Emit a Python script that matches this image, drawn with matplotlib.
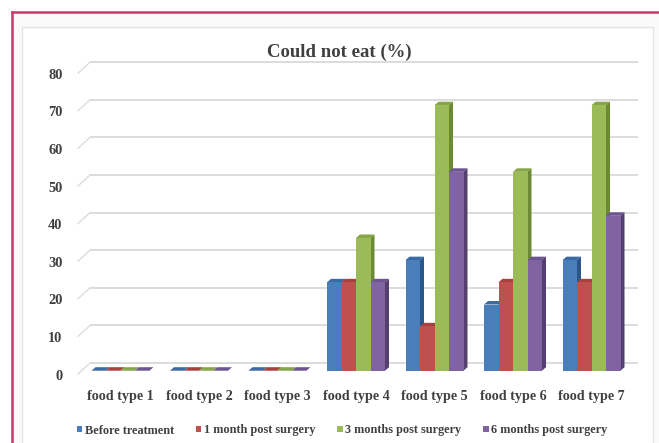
import matplotlib
matplotlib.use('Agg')
import matplotlib.pyplot as plt
from matplotlib.patches import Polygon, Rectangle, Patch
from matplotlib.lines import Line2D
import matplotlib.transforms as mtransforms

# ---------------- data ----------------
categories = ['food type 1', 'food type 2', 'food type 3', 'food type 4',
              'food type 5', 'food type 6', 'food type 7']
series_names = ['Before treatment', '1 month post surgery',
                '3 months post surgery', '6 months post surgery']
before_treatment = [0, 0, 0, 23.5, 29.4, 17.6, 29.4]
one_month = [0, 0, 0, 23.5, 11.8, 23.5, 23.5]
three_months = [0, 0, 0, 35.3, 70.6, 52.9, 70.6]
six_months = [0, 0, 0, 23.5, 52.9, 29.4, 41.2]
y_ticks = [0, 10, 20, 30, 40, 50, 60, 70, 80]
title_text = 'Could not eat (%)'

# ---------------- style ----------------
front_colors = ['#4a7ebb', '#c0504d', '#9bbb59', '#8064a2']
top_colors = ['#3c6aa3', '#a8403d', '#86a548', '#6d5590']
side_colors = ['#2b568a', '#8a3432', '#6a8a35', '#54406f']
text_color = '#404040'
FONT = 'Liberation Serif'

W, H, DPI = 659, 443, 100
fig = plt.figure(figsize=(W / DPI, H / DPI), dpi=DPI)
fig.patch.set_facecolor('white')


def frac(x0, ytop, x1, ybot):
    return (x0 / W, 1 - ybot / H, (x1 - x0) / W, (ybot - ytop) / H)


# background frames
l, b, w, h = frac(12, 12, W + 5, H + 5)
fig.add_artist(Rectangle((l, b), w, h, transform=fig.transFigure,
                         facecolor='#fbfafa', edgecolor='none', zorder=0))
l, b, w, h = frac(22.5, 27, 653, H + 5)
fig.add_artist(Rectangle((l, b), w, h, transform=fig.transFigure,
                         facecolor='white', edgecolor='#e4e4e4', lw=1.0, zorder=0))
fig.add_artist(Line2D([11.5 / W, 11.5 / W], [1 - 11.5 / H, -0.01],
                      transform=fig.transFigure, color='#c23d66', lw=1.8))
fig.add_artist(Line2D([11.5 / W, 1.01], [1 - 11.5 / H, 1 - 11.5 / H],
                      transform=fig.transFigure, color='#c23d66', lw=1.8))

# axes = front plane of the 3D chart
ax_left, ax_right = 78, 626
ax_top, ax_bot = 69.9, 370.7
ax = fig.add_axes(frac(ax_left, ax_top, ax_right, ax_bot))
c0, spacing = 120.5, 78.5
xl = (ax_left - c0) / spacing
xr = (ax_right - c0) / spacing
ax.set_xlim(xl, xr)
ax.set_ylim(0, 80)
ax.axis('off')

ppx = (ax_right - ax_left) / (xr - xl)   # pixels per x unit
ppy = (ax_bot - ax_top) / 80.0           # pixels per y unit


def offset(dx, dy):
    return ax.transData + mtransforms.ScaledTranslation(dx / DPI, dy / DPI, fig.dpi_scale_trans)


back = offset(12, 7.7)
for v in y_ticks:
    ax.plot([xl, xr], [v, v], transform=back, color='#d9d9d9', lw=1.3,
            zorder=1, clip_on=False, solid_capstyle='butt')
    ax.plot([xl, xl - 12 / ppx], [v, v - 11 / ppy], transform=back,
            color='#dcdcdc', lw=1.0, zorder=1, clip_on=False)
    ax.text(xl, v, str(v), transform=offset(-15.5, -9), ha='right', va='baseline',
            fontsize=10.4, fontfamily=FONT, fontweight='bold', color=text_color)

# bars
series = [before_treatment, one_month, three_months, six_months]
bw = 14.5 / spacing
ddx = 4.0 / ppx
ddy = 3.5 / ppy
handles = []
for j, vals in enumerate(series):
    xs = [i + (j - 1.5) * bw for i in range(len(categories))]
    z = 10 + 2 * j
    bars = ax.bar(xs, vals, width=bw, color=front_colors[j], linewidth=0,
                  zorder=z + 1, clip_on=False)
    for x, v in zip(xs, vals):
        x0, x1 = x - bw / 2, x + bw / 2
        top = Polygon([(x0, v), (x1, v), (x1 + ddx, v + ddy), (x0 + ddx, v + ddy)],
                      closed=True, facecolor=top_colors[j], edgecolor='none',
                      zorder=z, clip_on=False)
        ax.add_patch(top)
        if v > 0:
            side = Polygon([(x1, 0), (x1, v), (x1 + ddx, v + ddy), (x1 + ddx, ddy)],
                           closed=True, facecolor=side_colors[j], edgecolor='none',
                           zorder=z, clip_on=False)
            ax.add_patch(side)
    handles.append(Patch(facecolor=front_colors[j], edgecolor='none'))

# category labels
for i, c in enumerate(categories):
    ax.text(i, 0, c, transform=offset(0, -29), ha='center', va='baseline',
            fontsize=10.2, fontfamily=FONT, fontweight='bold', color=text_color)

# title
fig.text(339.5 / W, 1 - 56.5 / H, title_text, ha='center', va='baseline',
         fontsize=13.5, fontfamily=FONT, fontweight='bold', color=text_color)

# legend
leg = fig.legend(handles, series_names, ncol=4, loc='center',
                 bbox_to_anchor=(342 / W, 1 - 430.5 / H), frameon=False,
                 handlelength=0.45, handleheight=0.45, handletextpad=0.2,
                 columnspacing=1.8,
                 prop={'family': FONT, 'weight': 'bold', 'size': 8.8})
for t in leg.get_texts():
    t.set_color(text_color)

fig.savefig('out.png', dpi=DPI)
